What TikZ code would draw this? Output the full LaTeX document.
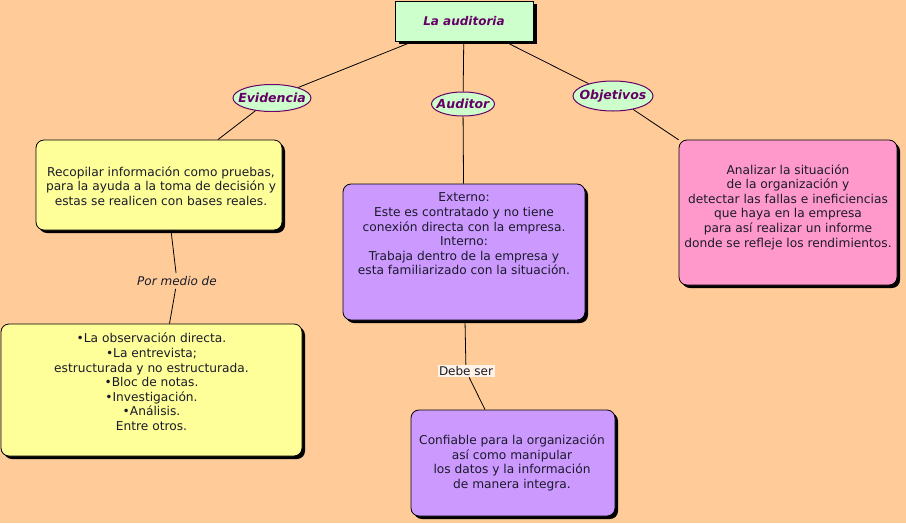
\documentclass[tikz,border=0pt]{standalone}
\usepackage{fontspec}
\setmainfont{DejaVu Sans}
\usetikzlibrary{shapes.geometric,shadows}
\definecolor{bg}{HTML}{FFCC99}
\definecolor{mint}{HTML}{CCFFCC}
\definecolor{plum}{HTML}{660066}
\definecolor{lemon}{HTML}{FFFF99}
\definecolor{lilac}{HTML}{CC99FF}
\definecolor{rose}{HTML}{FF99CC}
\definecolor{ink}{HTML}{1A1A2A}
\tikzset{
  card/.style={draw=black, line width=0.8pt, rounded corners=8pt, inner sep=0pt,
    drop shadow={shadow xshift=3pt, shadow yshift=-3pt, fill=black, opacity=1}},
  oval/.style={ellipse, draw=plum, fill=mint, line width=1pt, inner sep=0pt},
  ovaltext/.style={text=plum, font=\bfseries\itshape\fontsize{12.5}{14}\selectfont, inner sep=0pt},
  body/.style={align=center, text=ink, font=\fontsize{12.2}{14.6}\selectfont, inner sep=0pt},
  link/.style={draw=black, line width=0.8pt},
  tag/.style={text=ink, font=\fontsize{12}{14}\selectfont, inner sep=2pt}
}
\begin{document}
\begin{tikzpicture}[x=1pt,y=-1pt]
\fill[bg] (0,0) rectangle (906,523);
\useasboundingbox (0,0) rectangle (906,523);

% title
\node[draw=black, line width=0.8pt, fill=mint, minimum width=138pt, minimum height=40pt, inner sep=0pt,
  drop shadow={shadow xshift=4pt, shadow yshift=-3pt, fill=black, opacity=1},
  text=plum, font=\bfseries\itshape\fontsize{12}{14}\selectfont] (top) at (464,21) {La auditoria};

% ovals
\node[oval, minimum width=78pt, minimum height=27pt] (ev) at (272,98) {};
\node[ovaltext] (evt) at (ev.center) {Evidencia};
\node[oval, minimum width=63pt, minimum height=24pt] (au) at (463,104) {};
\node[ovaltext] (aut) at (au.center) {Auditor};
\node[oval, minimum width=80pt, minimum height=30pt] (ob) at (613,96) {};
\node[ovaltext] (obt) at (ob.center) {Objetivos};

% boxes
\node[card, fill=lemon, minimum width=246pt, minimum height=90pt] (b1) at (159,185) {};
\node[body] (b1t) at (161,186) {Recopilar información como pruebas,\\para la ayuda a la toma de decisión y\\ estas se realicen con bases reales.};

\node[card, fill=lemon, minimum width=301pt, minimum height=132pt] (b2) at (151.5,390) {};
\node[body] (b2t) at (151.5,382) {•La observación directa.\\•La entrevista;\\estructurada y no estructurada.\\•Bloc de notas.\\•Investigación.\\•Análisis.\\Entre otros.};

\node[card, fill=lilac, minimum width=242pt, minimum height=136pt] (b3) at (464,252) {};
\node[body] (b3t) at (464,234) {Externo:\\Este es contratado y no tiene\\ conexión directa con la empresa.\\Interno:\\Trabaja dentro de la empresa y\\esta familiarizado con la situación.};

\node[card, fill=lilac, minimum width=204pt, minimum height=106pt] (b4) at (513,463) {};
\node[body] (b4t) at (512,463) {Confiable para la organización\\así como manipular\\los datos y la información\\de manera integra.};

\node[card, fill=rose, minimum width=218pt, minimum height=145pt] (b5) at (788,212.5) {};
\node[body] (b5t) at (788,207) {Analizar la situación\\de la organización y\\ detectar las fallas e ineficiencias\\que haya en la empresa\\para así realizar un informe\\donde se refleje los rendimientos.};

% link labels
\node[tag, font=\itshape\fontsize{12}{14}\selectfont, inner sep=3pt] (pm) at (177,281) {Por medio de};
\node[tag, fill=white!75!bg, inner sep=1.5pt] (db) at (466,371) {Debe ser};

% connectors
\draw[link] (top) -- (ev);
\draw[link] (top) -- (au);
\draw[link] (top) -- (ob);
\draw[link] (ev) -- (b1);
\draw[link] (au) -- (b3);
\draw[link] (ob) -- (b5);
\draw[link] ([xshift=12pt]b1.south) -- (pm);
\draw[link] (pm) -- ([xshift=18pt]b2.north);
\draw[link] ([xshift=1pt]b3.south) -- (db);
\draw[link] (db) -- ([xshift=-28pt]b4.north);
\end{tikzpicture}
\end{document}
